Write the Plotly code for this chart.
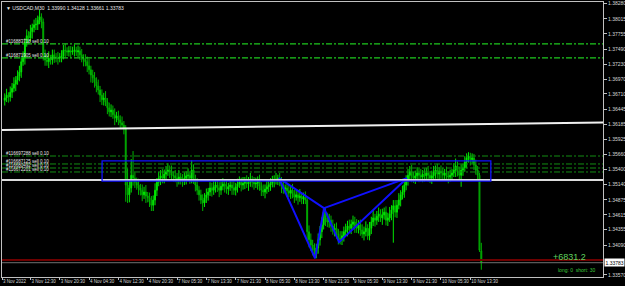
import plotly.graph_objects as go

# ---------------- data ----------------
bars = list(range(2, 263))
opens = [
 1.3660,1.3664,1.3669,1.3666,1.3674,1.3681,1.3688,1.3695,1.3702,
 1.3709,1.3727,1.3733,1.3761,1.3772,1.3768,1.3779,1.3786,1.3791,1.3792,1.3799,1.3805,
 1.3796,1.3739,1.3730,1.3727,1.3733,1.3730,1.3739,1.3735,1.3733,1.3733,1.3735,
 1.3737,1.3747,1.3746,1.3744,1.3746,1.3744,1.3746,1.3747,1.3744,
 1.3746,1.3739,1.3733,1.3730,1.3727,1.3720,1.3713,1.3704,1.3699,1.3692,1.3685,1.3678,1.3669,
 1.3661,1.3664,1.3657,1.3647,1.3640,1.3643,1.3635,1.3629,1.3633,1.3626,1.3621,1.3617,
 1.3612,1.3513,1.3496,1.3508,1.3530,1.3525,1.3518,1.3513,1.3508,1.3504,1.3496,1.3501,1.3494,1.3491,1.3484,1.3478,
 1.3487,1.3504,1.3518,1.3525,1.3529,1.3525,1.3532,1.3536,1.3539,1.3536,1.3530,1.3529,1.3525,1.3522,1.3527,1.3523,1.3520,1.3525,1.3529,1.3530,
 1.3525,1.3539,1.3522,1.3513,1.3504,1.3496,1.3487,1.3482,1.3491,1.3496,1.3501,1.3508,1.3504,1.3510,1.3513,1.3508,1.3504,
 1.3511,1.3515,1.3511,1.3506,1.3510,1.3513,1.3508,1.3504,1.3510,1.3515,1.3518,1.3513,1.3516,1.3520,1.3515,1.3518,1.3522,1.3518,1.3515,1.3516,
 1.3520,1.3511,1.3504,1.3501,1.3506,1.3510,1.3513,1.3516,1.3520,1.3522,1.3523,1.3525,1.3518,1.3511,1.3506,1.3508,1.3503,1.3499,1.3504,1.3498,1.3492,1.3496,1.3491,1.3494,1.3489,1.3492,
 1.3487,1.3432,1.3418,1.3409,1.3400,1.3393,1.3404,1.3418,1.3432,1.3444,1.3466,1.3456,1.3449,1.3452,1.3442,1.3435,1.3438,1.3428,1.3421,
 1.3418,1.3425,1.3432,1.3435,1.3442,1.3438,1.3445,1.3449,1.3442,1.3438,1.3444,1.3435,1.3428,1.3432,1.3438,
 1.3425,1.3438,1.3449,1.3456,1.3452,1.3459,1.3463,1.3456,1.3461,1.3466,1.3452,1.3456,1.3463,1.3470,1.3477,1.3466,1.3478,1.3487,1.3496,1.3501,
 1.3513,1.3522,1.3530,1.3536,1.3529,1.3525,1.3529,1.3534,1.3530,1.3527,1.3532,1.3529,1.3534,1.3530,1.3525,1.3529,1.3536,1.3539,1.3532,1.3537,
 1.3534,1.3530,1.3534,1.3529,1.3527,1.3530,1.3534,1.3539,1.3546,1.3536,1.3530,1.3539,1.3543,1.3553,1.3560,1.3563,1.3557,1.3560,1.3548,1.3539,1.3530,1.33990]
highs = [
 1.3672,1.3680,1.3674,1.3684,1.3690,1.3700,1.3702,1.3712,1.3720,
 1.3735,1.3745,1.3768,1.3783,1.3780,1.3791,1.3793,1.3800,1.3803,1.3807,1.3817,1.3811,
 1.3802,1.3748,1.3740,1.3745,1.3739,1.3748,1.3748,1.3742,1.3744,1.3742,1.3747,
 1.3756,1.3758,1.3752,1.3754,1.3754,1.3753,1.3757,1.3753,1.3755,
 1.3753,1.3749,1.3740,1.3740,1.3736,1.3732,1.3720,1.3713,1.3709,1.3700,1.3696,1.3685,1.3679,
 1.3673,1.3676,1.3664,1.3656,1.3653,1.3651,1.3646,1.3640,1.3642,1.3634,1.3632,1.3624,
 1.3617,1.3542,1.3520,1.3558,1.3572,1.3535,1.3526,1.3524,1.3515,1.3514,1.3510,1.3513,1.3501,1.3500,1.3494,1.3495,
 1.3516,1.3525,1.3536,1.3539,1.3541,1.3540,1.3546,1.3551,1.3547,1.3547,1.3537,1.3539,1.3534,1.3539,1.3534,1.3532,1.3535,1.3537,1.3542,1.3537,
 1.3556,1.3549,1.3531,1.3525,1.3511,1.3505,1.3497,1.3499,1.3507,1.3508,1.3518,1.3517,1.3522,1.3520,1.3522,1.3518,1.3519,
 1.3525,1.3523,1.3522,1.3517,1.3523,1.3522,1.3520,1.3517,1.3524,1.3528,1.3526,1.3527,1.3527,1.3530,1.3527,1.3534,1.3529,1.3527,1.3526,1.3528,
 1.3531,1.3518,1.3514,1.3514,1.3521,1.3520,1.3525,1.3529,1.3530,1.3534,1.3531,1.3534,1.3527,1.3523,1.3514,1.3517,1.3513,1.3512,1.3515,1.3505,1.3506,1.3504,1.3506,1.3500,1.3500,1.3502,
 1.3492,1.3443,1.3429,1.3418,1.3412,1.3411,1.3429,1.3442,1.3457,1.3475,1.3473,1.3465,1.3463,1.3460,1.3453,1.3446,1.3448,1.3437,1.3433,
 1.3433,1.3441,1.3446,1.3451,1.3453,1.3453,1.3460,1.3458,1.3454,1.3452,1.3453,1.3445,1.3441,1.3450,1.3445,
 1.3449,1.3458,1.3469,1.3463,1.3468,1.3474,1.3471,1.3472,1.3474,1.3476,1.3465,1.3475,1.3478,1.3487,1.3487,1.3487,1.3499,1.3504,1.3512,1.3523,
 1.3530,1.3541,1.3546,1.3548,1.3536,1.3538,1.3544,1.3542,1.3541,1.3539,1.3542,1.3543,1.3546,1.3537,1.3538,1.3546,1.3547,1.3550,1.3544,1.3547,
 1.3543,1.3541,1.3545,1.3537,1.3540,1.3541,1.3551,1.3559,1.3554,1.3545,1.3549,1.3550,1.3563,1.3568,1.3570,1.3569,1.3568,1.3567,1.3557,1.3546,1.3534,1.34128]
lows = [
 1.3651,1.3657,1.3656,1.3658,1.3664,1.3674,1.3676,1.3687,1.3693,
 1.3699,1.3720,1.3722,1.3753,1.3758,1.3762,1.3767,1.3778,1.3782,1.3782,1.3792,1.3785,
 1.3729,1.3720,1.3720,1.3716,1.3722,1.3722,1.3725,1.3726,1.3722,1.3726,1.3726,
 1.3731,1.3735,1.3737,1.3736,1.3735,1.3739,1.3736,1.3737,1.3735,
 1.3730,1.3726,1.3719,1.3719,1.3709,1.3705,1.3691,1.3690,1.3682,1.3674,1.3670,1.3657,1.3652,
 1.3651,1.3650,1.3636,1.3632,1.3631,1.3628,1.3617,1.3622,1.3617,1.3611,1.3610,1.3601,
 1.3484,1.3482,1.3483,1.3500,1.3512,1.3508,1.3505,1.3496,1.3495,1.3485,1.3489,1.3482,1.3483,1.3475,1.3468,1.3468,
 1.3478,1.3494,1.3511,1.3513,1.3516,1.3516,1.3522,1.3529,1.3525,1.3522,1.3519,1.3518,1.3510,1.3514,1.3514,1.3510,1.3513,1.3514,1.3521,1.3515,
 1.3516,1.3515,1.3502,1.3496,1.3486,1.3480,1.3468,1.3475,1.3482,1.3486,1.3494,1.3493,1.3496,1.3500,1.3501,1.3492,1.3496,
 1.3504,1.3500,1.3498,1.3496,1.3503,1.3496,1.3496,1.3495,1.3500,1.3508,1.3502,1.3505,1.3506,1.3508,1.3503,1.3510,1.3509,1.3505,1.3508,1.3505,
 1.3503,1.3494,1.3494,1.3490,1.3498,1.3501,1.3503,1.3509,1.3509,1.3514,1.3513,1.3511,1.3499,1.3498,1.3498,1.3493,1.3492,1.3489,1.3490,1.3482,1.3486,1.3479,1.3484,1.3480,1.3480,1.3480,
 1.3418,1.3405,1.3399,1.3391,1.3388,1.3386,1.3394,1.3408,1.3421,1.3436,1.3442,1.3440,1.3439,1.3432,1.3427,1.3424,1.3420,1.3410,1.3410,
 1.3409,1.3415,1.3425,1.3424,1.3430,1.3428,1.3438,1.3430,1.3430,1.3429,1.3425,1.3421,1.3417,1.3424,1.3418,
 1.3417,1.3428,1.3442,1.3441,1.3444,1.3449,1.3449,1.3444,1.3453,1.3443,1.3442,1.3449,1.3452,1.3413,1.3457,1.3456,1.3471,1.3476,1.3488,1.3491,
 1.3504,1.3512,1.3523,1.3518,1.3517,1.3515,1.3522,1.3518,1.3519,1.3518,1.3519,1.3522,1.3519,1.3517,1.3515,1.3522,1.3524,1.3524,1.3523,1.3524,
 1.3522,1.3520,1.3522,1.3516,1.3519,1.3520,1.3527,1.3527,1.3528,1.3521,1.3510,1.3529,1.3536,1.3542,1.3552,1.3547,1.3550,1.3539,1.3531,1.3523,1.3397,1.33661]
closes = [
 1.3664,1.3669,1.3666,1.3674,1.3681,1.3688,1.3695,1.3702,1.3709,
 1.3727,1.3733,1.3761,1.3772,1.3768,1.3779,1.3786,1.3791,1.3792,1.3799,1.3805,1.3796,
 1.3739,1.3730,1.3727,1.3733,1.3730,1.3739,1.3735,1.3733,1.3733,1.3735,1.3737,
 1.3747,1.3746,1.3744,1.3746,1.3744,1.3746,1.3747,1.3744,1.3746,
 1.3739,1.3733,1.3730,1.3727,1.3720,1.3713,1.3704,1.3699,1.3692,1.3685,1.3678,1.3669,1.3661,
 1.3664,1.3657,1.3647,1.3640,1.3643,1.3635,1.3629,1.3633,1.3626,1.3621,1.3617,1.3612,
 1.3513,1.3496,1.3508,1.3530,1.3525,1.3518,1.3513,1.3508,1.3504,1.3496,1.3501,1.3494,1.3491,1.3484,1.3478,1.3487,
 1.3504,1.3518,1.3525,1.3529,1.3525,1.3532,1.3536,1.3539,1.3536,1.3530,1.3529,1.3525,1.3522,1.3527,1.3523,1.3520,1.3525,1.3529,1.3530,1.3525,
 1.3539,1.3522,1.3513,1.3504,1.3496,1.3487,1.3482,1.3491,1.3496,1.3501,1.3508,1.3504,1.3510,1.3513,1.3508,1.3504,1.3511,
 1.3515,1.3511,1.3506,1.3510,1.3513,1.3508,1.3504,1.3510,1.3515,1.3518,1.3513,1.3516,1.3520,1.3515,1.3518,1.3522,1.3518,1.3515,1.3516,1.3520,
 1.3511,1.3504,1.3501,1.3506,1.3510,1.3513,1.3516,1.3520,1.3522,1.3523,1.3525,1.3518,1.3511,1.3506,1.3508,1.3503,1.3499,1.3504,1.3498,1.3492,1.3496,1.3491,1.3494,1.3489,1.3492,1.3487,
 1.3432,1.3418,1.3409,1.3400,1.3393,1.3404,1.3418,1.3432,1.3444,1.3466,1.3456,1.3449,1.3452,1.3442,1.3435,1.3438,1.3428,1.3421,1.3418,
 1.3425,1.3432,1.3435,1.3442,1.3438,1.3445,1.3449,1.3442,1.3438,1.3444,1.3435,1.3428,1.3432,1.3438,1.3425,
 1.3438,1.3449,1.3456,1.3452,1.3459,1.3463,1.3456,1.3461,1.3466,1.3452,1.3456,1.3463,1.3470,1.3477,1.3466,1.3478,1.3487,1.3496,1.3501,1.3513,
 1.3522,1.3530,1.3536,1.3529,1.3525,1.3529,1.3534,1.3530,1.3527,1.3532,1.3529,1.3534,1.3530,1.3525,1.3529,1.3536,1.3539,1.3532,1.3537,1.3534,
 1.3530,1.3534,1.3529,1.3527,1.3530,1.3534,1.3539,1.3546,1.3536,1.3530,1.3539,1.3543,1.3553,1.3560,1.3563,1.3557,1.3560,1.3548,1.3539,1.3530,1.3400,1.33783]
assert len(bars) == len(opens) == len(highs) == len(lows) == len(closes), (len(opens), len(highs), len(lows), len(closes))

x_tickvals = [0.5, 16, 32, 48, 64, 80, 96, 112, 128, 144, 160, 176, 192, 208, 224, 240, 256]
x_ticktext = ["3 Nov 2022", "3 Nov 12:30", "3 Nov 20:30", "4 Nov 04:30", "4 Nov 12:30", "4 Nov 20:30",
              "7 Nov 05:30", "7 Nov 13:30", "7 Nov 21:30", "8 Nov 05:30", "8 Nov 13:30", "8 Nov 21:30",
              "9 Nov 05:30", "9 Nov 13:30", "9 Nov 21:30", "10 Nov 05:30", "10 Nov 13:30"]
y_tickvals = [1.38280, 1.38015, 1.37755, 1.37490, 1.37230, 1.36970, 1.36710, 1.36445, 1.36185,
              1.35925, 1.35660, 1.35400, 1.35140, 1.34875, 1.34615, 1.34355, 1.34090, 1.33570]
y_ticktext = ["%.5f" % v for v in y_tickvals]

order_levels_upper = [1.37578, 1.37335]
order_labels_upper = ["#116883718 sell 0.10", "#116871905 sell 0.10"]
order_levels_lower = [1.35634, 1.35496, 1.35426, 1.35357]
order_labels_lower = ["#116697288 sell 0.10", "#116687125 sell 0.10", "#116680492 sell 0.10", "#116672201 sell 0.10"]
support_level = 1.35218
trend_x = [0.5, 328.4]
trend_y = [1.36086, 1.36216]
pattern_x = [151.6, 171.3, 176.2, 151.6, 176.2, 184.4, 221.4, 176.2]
pattern_y = [1.3525, 1.3386, 1.3473, 1.3525, 1.3473, 1.3414, 1.3525, 1.3473]
box_x = [55.1, 267.2]
box_y = [1.3520, 1.3555]
bid_price = 1.33783
stop_line = 1.33830
profit_text = "+6831.2"
positions_text = "long: 0  short: 30"
header_text = "▼ USDCAD,M30  1.33990 1.34128 1.33661 1.33783"

X_RANGE = [0.5, 328.4]
Y_RANGE = [1.33535, 1.38306]

fig = go.Figure()
fig.add_trace(go.Candlestick(
    x=bars, open=opens, high=highs, low=lows, close=closes,
    increasing=dict(line=dict(color="#00e600", width=1), fillcolor="#33ff33"),
    decreasing=dict(line=dict(color="#00b300", width=1), fillcolor="#006600"),
    whiskerwidth=0, showlegend=False, hoverinfo="skip"))

fig.add_trace(go.Scatter(x=trend_x, y=trend_y, mode="lines",
                         line=dict(color="#f0f0f0", width=2), showlegend=False, hoverinfo="skip"))
fig.add_trace(go.Scatter(x=pattern_x, y=pattern_y, mode="lines",
                         line=dict(color="#1010ff", width=2), showlegend=False, hoverinfo="skip"))

shapes = []
for lv in order_levels_upper:
    shapes.append(dict(type="line", xref="paper", x0=0, x1=1, yref="y", y0=lv, y1=lv,
                       line=dict(color="#1ec81e", width=1.2, dash="6px,2px,2px,2px")))
for lv in order_levels_lower:
    shapes.append(dict(type="line", xref="paper", x0=0, x1=1, yref="y", y0=lv, y1=lv,
                       line=dict(color="#128c12", width=1, dash="6px,2px,2px,2px")))
shapes.append(dict(type="line", xref="paper", x0=0, x1=1, yref="y", y0=support_level, y1=support_level,
                   line=dict(color="#dcdcdc", width=2)))
shapes.append(dict(type="rect", xref="x", x0=box_x[0], x1=box_x[1], yref="y", y0=box_y[0], y1=box_y[1],
                   line=dict(color="#1010ff", width=1.3), fillcolor="rgba(0,0,0,0)"))
shapes.append(dict(type="line", xref="paper", x0=0, x1=1, yref="y", y0=stop_line, y1=stop_line,
                   line=dict(color="#6e0000", width=2)))
shapes.append(dict(type="line", xref="paper", x0=0, x1=1, yref="y", y0=bid_price, y1=bid_price,
                   line=dict(color="#707070", width=1)))

annotations = []
for lv, txt in zip(order_levels_upper + order_levels_lower, order_labels_upper + order_labels_lower):
    annotations.append(dict(x=1.5, y=lv, xref="x", yref="y", text=txt, showarrow=False,
                            xanchor="left", yanchor="bottom", yshift=-2,
                            font=dict(size=4.5, color="#e8e8e8", family="Arial")))
annotations.append(dict(x=0.003, y=1, xref="paper", yref="paper", text=header_text, showarrow=False,
                        xanchor="left", yanchor="top", yshift=-1,
                        font=dict(size=5, color="#e8e8e8", family="Arial")))
annotations.append(dict(x=320, y=1.33882, xref="x", yref="y", text=profit_text, showarrow=False,
                        xanchor="right", yanchor="middle",
                        font=dict(size=9, color="#5fd35f", family="Arial")))
annotations.append(dict(x=325, y=1.33657, xref="x", yref="y", text=positions_text, showarrow=False,
                        xanchor="right", yanchor="middle",
                        font=dict(size=5, color="#3cc83c", family="Arial")))
annotations.append(dict(x=1, y=bid_price, xref="paper", yref="y", text="%.5f" % bid_price, showarrow=False,
                        xanchor="left", yanchor="middle", xshift=1, bgcolor="#ffffff", borderpad=0.5,
                        font=dict(size=5, color="#000000", family="Arial")))

fig.update_layout(
    width=625, height=286, template="none",
    margin=dict(l=2, r=22, t=2, b=9),
    paper_bgcolor="#000000", plot_bgcolor="#000000",
    shapes=shapes, annotations=annotations, showlegend=False,
    xaxis=dict(range=X_RANGE, tickmode="array", tickvals=x_tickvals, ticktext=x_ticktext,
               ticks="outside", ticklen=2, tickcolor="#c0c0c0", ticklabelposition="outside right",
               tickangle=0, ticklabelstandoff=0,
               tickfont=dict(size=4.5, color="#d8d8d8", family="Arial"),
               showgrid=False, zeroline=False, showline=True, linecolor="#c0c0c0", linewidth=1,
               mirror=True, rangeslider=dict(visible=False), automargin=False, fixedrange=True),
    yaxis=dict(range=Y_RANGE, side="right", tickmode="array", tickvals=y_tickvals, ticktext=y_ticktext,
               ticks="outside", ticklen=3, tickcolor="#c0c0c0",
               tickfont=dict(size=5, color="#d8d8d8", family="Arial"),
               showgrid=False, zeroline=False, showline=True, linecolor="#c0c0c0", linewidth=1,
               mirror=True, automargin=False, fixedrange=True),
)

fig.write_html("out.html")
